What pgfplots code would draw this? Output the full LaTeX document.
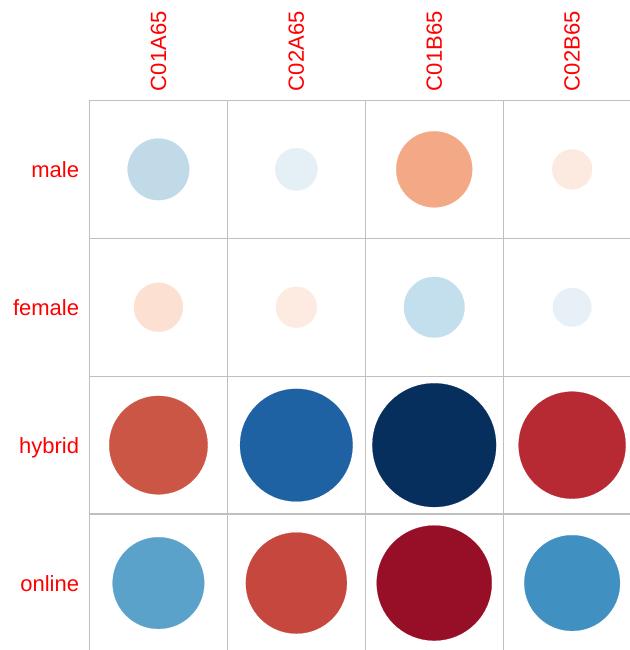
\documentclass[border=0pt]{standalone}
\usepackage{fontspec}
\setmainfont{Liberation Sans}
\usepackage{pgfplots}
\pgfplotsset{compat=1.18}

% one colour per cell
\definecolor{mA}{RGB}{192,218,232}
\definecolor{mB}{RGB}{228,239,246}
\definecolor{mC}{RGB}{243,168,134}
\definecolor{mD}{RGB}{252,234,224}
\definecolor{fA}{RGB}{252,224,209}
\definecolor{fB}{RGB}{253,234,224}
\definecolor{fC}{RGB}{195,222,236}
\definecolor{fD}{RGB}{231,240,246}
\definecolor{hA}{RGB}{204,86,70}
\definecolor{hB}{RGB}{31,98,164}
\definecolor{hC}{RGB}{7,47,93}
\definecolor{hD}{RGB}{184,42,51}
\definecolor{oA}{RGB}{90,162,202}
\definecolor{oB}{RGB}{197,71,62}
\definecolor{oC}{RGB}{150,15,39}
\definecolor{oD}{RGB}{65,144,194}

% circle radius in pt (reference px / 2)
\pgfplotsset{cell/.style 2 args={only marks, mark=*, mark size=#2pt,
  color=#1, mark options={draw=#1, fill=#1, line width=0.1pt}}}

\begin{document}
\begin{tikzpicture}
\begin{axis}[
  at={(0,0)}, anchor=south west,
  x=68.95pt, y=68.95pt,
  xmin=0, xmax=4, ymin=0, ymax=4,
  axis line style={draw=black!25, line width=0.6pt},
  xtick={0.5,1.5,2.5,3.5},
  xticklabels={C01A65,C02A65,C01B65,C02B65},
  ytick={0.5,1.5,2.5,3.5},
  yticklabels={online,hybrid,female,male},
  minor xtick={1,2,3}, minor ytick={1,2,3},
  xminorgrids=true, yminorgrids=true,
  minor grid style={draw=black!25, line width=0.6pt},
  major tick length=0pt, minor tick length=0pt,
  xticklabel pos=upper,
  tick label style={font=\fontsize{11}{13}\selectfont, text=red, inner sep=0pt},
  xticklabel style={rotate=90, anchor=west},
  yticklabel style={anchor=base east, yshift=-4pt},
  xticklabel shift=4.5pt, yticklabel shift=5pt,
]
% male
\addplot[cell={mA}{15.4}] coordinates {(0.5,3.5)};
\addplot[cell={mB}{10.6}] coordinates {(1.5,3.5)};
\addplot[cell={mC}{19.0}] coordinates {(2.5,3.5)};
\addplot[cell={mD}{10.0}] coordinates {(3.5,3.5)};
% female
\addplot[cell={fA}{12.25}] coordinates {(0.5,2.5)};
\addplot[cell={fB}{10.25}] coordinates {(1.5,2.5)};
\addplot[cell={fC}{15.15}] coordinates {(2.5,2.5)};
\addplot[cell={fD}{9.65}] coordinates {(3.5,2.5)};
% hybrid
\addplot[cell={hA}{24.6}] coordinates {(0.5,1.5)};
\addplot[cell={hB}{28.15}] coordinates {(1.5,1.5)};
\addplot[cell={hC}{30.9}] coordinates {(2.5,1.5)};
\addplot[cell={hD}{26.75}] coordinates {(3.5,1.5)};
% online
\addplot[cell={oA}{22.9}] coordinates {(0.5,0.5)};
\addplot[cell={oB}{25.25}] coordinates {(1.5,0.5)};
\addplot[cell={oC}{28.75}] coordinates {(2.5,0.5)};
\addplot[cell={oD}{23.9}] coordinates {(3.5,0.5)};
\end{axis}
\pgfresetboundingbox
\path (-44.75pt,1pt) rectangle (269.75pt,326pt);
\end{tikzpicture}
\end{document}
